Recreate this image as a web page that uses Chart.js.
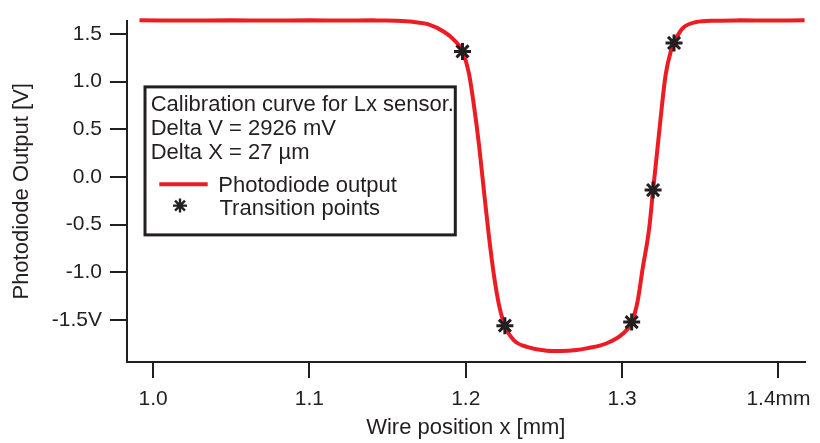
<!DOCTYPE html>
<html>
<head>
<meta charset="utf-8">
<title>Lx sensor calibration</title>
<script src="https://cdn.jsdelivr.net/npm/chart.js@4.4.0/dist/chart.umd.min.js"></script>
<style>
  html, body { margin: 0; padding: 0; background: #fff; }
  canvas { display: block; }
</style>
</head>
<body>
<canvas id="chart" width="820" height="443"></canvas>
<script>
// photodiode scan across the wire (x in mm, output in V)
const curveX = [0.9913, 1.05, 1.10, 1.14, 1.155, 1.166, 1.1757, 1.1863, 1.1926, 1.1979,
  1.2021, 1.2053, 1.2085, 1.2116, 1.2148, 1.2180, 1.2212, 1.2250, 1.2307, 1.2391,
  1.2518, 1.2610, 1.2708, 1.2772, 1.2898, 1.3004, 1.3061, 1.3099, 1.3131, 1.3173,
  1.3198, 1.3226, 1.3254, 1.3279, 1.3311, 1.3332, 1.3385, 1.3469, 1.36, 1.375, 1.4167];
const curveY = [1.643, 1.643, 1.643, 1.642, 1.637, 1.626, 1.602, 1.52, 1.435, 1.316,
  1.078, 0.738, 0.33, -0.145, -0.622, -1.03, -1.337, -1.558, -1.711, -1.78,
  -1.82, -1.823, -1.813, -1.796, -1.745, -1.643, -1.521, -1.303, -0.963, -0.54,
  -0.137, 0.296, 0.738, 1.078, 1.316, 1.405, 1.554, 1.622, 1.638, 1.643, 1.643];

// transition points picked on the edges
const pointX = [1.1979, 1.2250, 1.3061, 1.3198, 1.3332];
const pointY = [1.316, -1.558, -1.521, -0.137, 1.405];

const xTickValues = [1.0, 1.1, 1.2, 1.3, 1.4];
const xTickLabels = ['1.0', '1.1', '1.2', '1.3', '1.4mm'];
const yTickValues = [1.5, 1.0, 0.5, 0.0, -0.5, -1.0, -1.5];
const yTickLabels = ['1.5', '1.0', '0.5', '0.0', '-0.5', '-1.0', '-1.5V'];

const ink = '#231f20';
const red = '#ec1c24';
const family = "'Liberation Sans', Arial, Helvetica, sans-serif";

// delta between the outer points of the rising edge
const deltaV = Math.round((pointY[4] - pointY[2]) * 1000);
const deltaX = Math.round((pointX[4] - pointX[2]) * 1000);
const noteLines = [
  'Calibration curve for Lx sensor.',
  'Delta V = ' + deltaV + ' mV',
  'Delta X = ' + deltaX + ' µm'
];

function drawStar(ctx, x, y, r, lw) {
  const d = r * Math.SQRT1_2;
  ctx.save();
  ctx.lineWidth = lw;
  ctx.strokeStyle = ink;
  ctx.beginPath();
  ctx.moveTo(x - r, y); ctx.lineTo(x + r, y);
  ctx.moveTo(x, y - r); ctx.lineTo(x, y + r);
  ctx.moveTo(x - d, y - d); ctx.lineTo(x + d, y + d);
  ctx.moveTo(x - d, y + d); ctx.lineTo(x + d, y - d);
  ctx.stroke();
  ctx.restore();
}

// boxed note + legend drawn inside the plot area
const legendBox = {
  id: 'legendBox',
  afterDatasetsDraw(chart) {
    const { ctx, chartArea } = chart;
    const x0 = chartArea.left + 18;
    const y0 = chartArea.top + 66.3;
    const w = 310.3, h = 148;
    const stars = chart.data.datasets[0];
    const curve = chart.data.datasets[1];

    ctx.save();
    ctx.fillStyle = '#fff';
    ctx.fillRect(x0, y0, w, h);
    ctx.lineWidth = 3;
    ctx.strokeStyle = ink;
    ctx.strokeRect(x0, y0, w, h);

    ctx.fillStyle = ink;
    ctx.font = '22px ' + family;
    ctx.textAlign = 'left';
    ctx.textBaseline = 'alphabetic';
    noteLines.forEach((t, i) => ctx.fillText(t, x0 + 5.7, y0 + 24.4 + 24 * i));

    ctx.strokeStyle = curve.borderColor;
    ctx.lineWidth = 4;
    ctx.beginPath();
    ctx.moveTo(x0 + 14.3, y0 + 97.4);
    ctx.lineTo(x0 + 62.7, y0 + 97.4);
    ctx.stroke();
    ctx.fillText(curve.label, x0 + 73.3, y0 + 105);

    drawStar(ctx, x0 + 35, y0 + 118.7, 7, 2.4);
    ctx.fillText(stars.label, x0 + 74.5, y0 + 128.4);
    ctx.restore();
  }
};

const ctx = document.getElementById('chart').getContext('2d');

new Chart(ctx, {
  type: 'scatter',
  data: {
    datasets: [
      {
        label: 'Transition points',
        data: pointX.map((x, i) => ({ x: x, y: pointY[i] })),
        showLine: false,
        pointStyle: 'star',
        pointRadius: 8.5,
        pointBorderWidth: 3,
        pointBorderColor: ink,
        pointBackgroundColor: ink
      },
      {
        label: 'Photodiode output',
        data: curveX.map((x, i) => ({ x: x, y: curveY[i] })),
        showLine: true,
        clip: false,
        borderColor: red,
        borderWidth: 4,
        pointRadius: 0,
        fill: false,
        cubicInterpolationMode: 'monotone'
      }
    ]
  },
  options: {
    responsive: false,
    animation: false,
    layout: { padding: { left: 0, right: 10, top: 12, bottom: 0 } },
    plugins: {
      legend: { display: false },
      tooltip: { enabled: false }
    },
    scales: {
      x: {
        type: 'linear',
        min: 0.9833,
        max: 1.4167,
        afterBuildTicks: (s) => { s.ticks = xTickValues.map(v => ({ value: v })); },
        afterFit: (s) => { s.height = 81; },
        grid: {
          drawOnChartArea: false,
          drawTicks: true,
          tickLength: 16,
          tickWidth: 2,
          tickColor: ink,
          color: ink,
          lineWidth: 2
        },
        border: { display: true, color: ink, width: 2 },
        ticks: {
          padding: 9,
          color: ink,
          autoSkip: false,
          maxRotation: 0,
          font: { family: family, size: 21 },
          callback: (v, i) => xTickLabels[i]
        },
        title: {
          display: true,
          text: 'Wire position x [mm]',
          color: ink,
          font: { family: family, size: 22 },
          padding: { top: 0, bottom: 2 }
        }
      },
      y: {
        type: 'linear',
        min: -1.939,
        max: 1.639,
        afterBuildTicks: (s) => { s.ticks = yTickValues.map(v => ({ value: v })); },
        afterFit: (s) => { s.width = 127; },
        grid: {
          drawOnChartArea: false,
          drawTicks: true,
          tickLength: 17,
          tickWidth: 2,
          tickColor: ink,
          color: ink,
          lineWidth: 2
        },
        border: { display: true, color: ink, width: 2 },
        ticks: {
          padding: 8,
          color: ink,
          autoSkip: false,
          font: { family: family, size: 21 },
          callback: (v, i) => yTickLabels[i]
        },
        title: {
          display: true,
          text: 'Photodiode Output [V]',
          color: ink,
          font: { family: family, size: 22 },
          padding: { top: 8.5, bottom: 0 }
        }
      }
    }
  },
  plugins: [legendBox]
});
</script>
</body>
</html>
